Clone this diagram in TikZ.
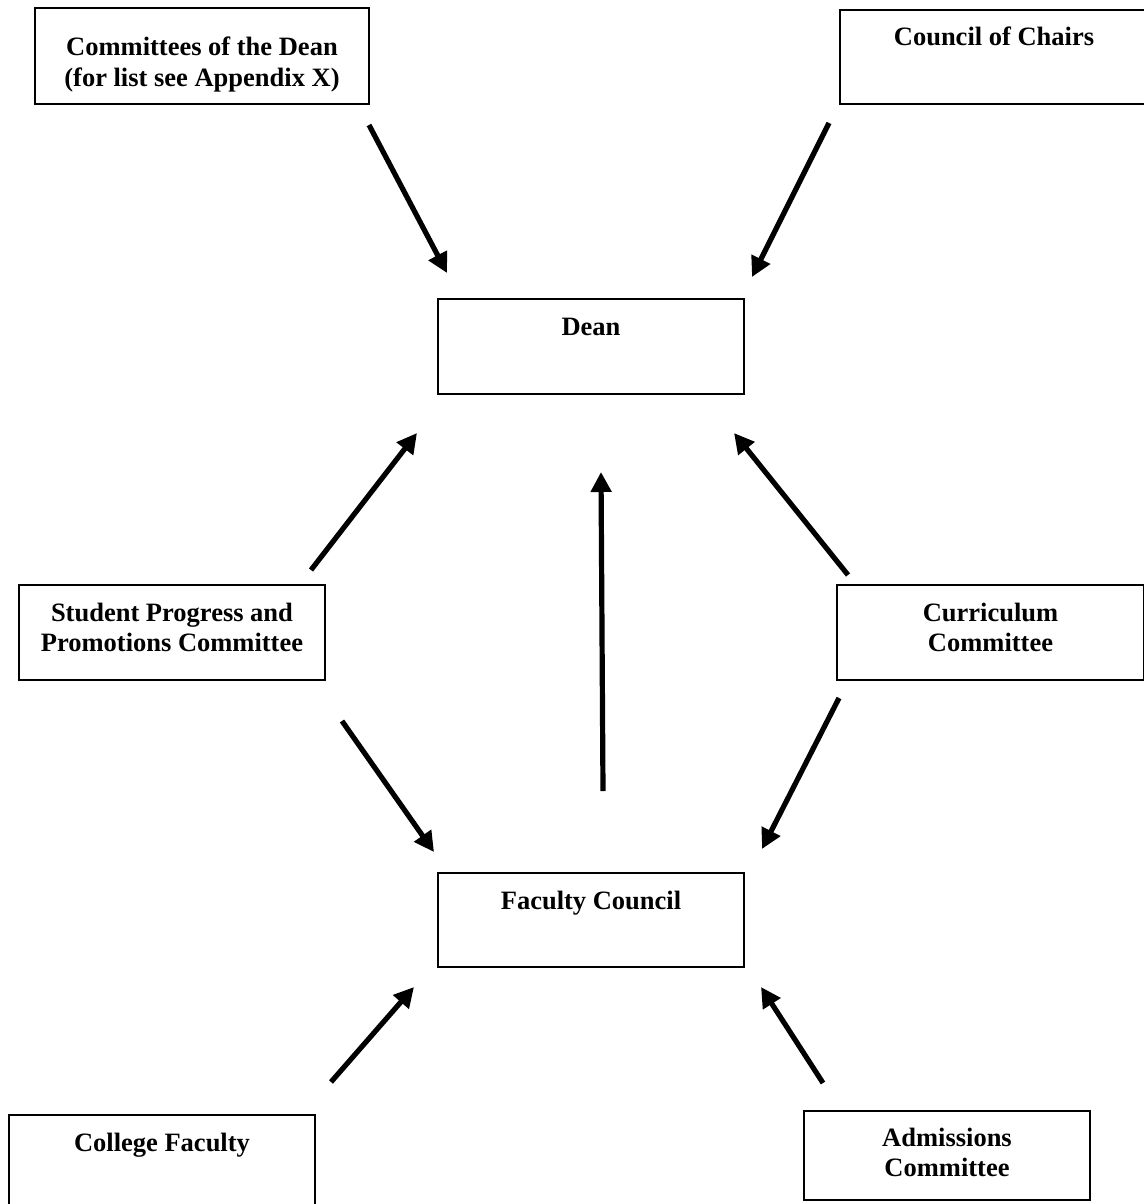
\documentclass[tikz,border=0pt]{standalone}
\usepackage{fontspec}
\setmainfont{Liberation Serif}
\usetikzlibrary{arrows.meta}
% text set at the top of a fixed box
\newcommand{\boxtext}[4][36pt]{\parbox[c][#3][t]{#2}{\centering\rule{0pt}{#1}#4}}
\begin{document}
\begin{tikzpicture}[x=1pt, y=-1pt,
    box/.style ={draw, line width=1.8pt, inner sep=0pt,
        font=\fontsize{26.5}{30.5}\selectfont\bfseries},
    arr/.style ={line width=5.2pt, -{Triangle[length=20pt, width=20pt]}}]
        \useasboundingbox (0,0) rectangle (1143,1204);
        \node[box] (cmt) at (202,56) {\boxtext[48pt]{334pt}{96pt}{Committees of the Dean\\(for list see Appendix X)}};
        \node[box] (chairs) at (994,57) {\boxtext{308pt}{94pt}{Council of Chairs}};
        \node[box] (dean) at (591,346.5) {\boxtext{306pt}{95pt}{Dean}};
        \node[box] (spp) at (172,632.5) {\boxtext{306pt}{95pt}{Student Progress and\\Promotions Committee}};
        \node[box] (curr) at (990.5,632.5) {\boxtext{307pt}{95pt}{Curriculum\\Committee}};
        \node[box] (fc) at (591,920) {\boxtext{306pt}{94pt}{Faculty Council}};
        \node[box] (college) at (162,1162.5) {\boxtext{306pt}{95pt}{College Faculty}};
        \node[box] (adm) at (947,1155.5) {\boxtext[35pt]{286pt}{89pt}{Admissions\\Committee}};
        % free arrow ends
        \coordinate (cmt-out) at (369,125);
        \coordinate (dean-in1) at (447,273);
        \coordinate (chairs-out) at (829,123);
        \coordinate (dean-in2) at (752,277);
        \coordinate (spp-out1) at (311,570);
        \coordinate (dean-in3) at (417,433);
        \coordinate (curr-out1) at (848,575);
        \coordinate (dean-in4) at (734,433);
        \coordinate (fc-out) at (603,791);
        \coordinate (dean-in5) at (601,472);
        \coordinate (spp-out2) at (342,721);
        \coordinate (fc-in1) at (434,852);
        \coordinate (curr-out2) at (839,698);
        \coordinate (fc-in2) at (762,849);
        \coordinate (college-out) at (331,1082);
        \coordinate (fc-in3) at (414,987);
        \coordinate (adm-out) at (823,1083);
        \coordinate (fc-in4) at (761,987);
        \draw[arr] (cmt-out) -- (dean-in1);
        \draw[arr] (chairs-out) -- (dean-in2);
        \draw[arr] (spp-out1) -- (dean-in3);
        \draw[arr] (curr-out1) -- (dean-in4);
        \draw[arr] (fc-out) -- (dean-in5);
        \draw[arr] (spp-out2) -- (fc-in1);
        \draw[arr] (curr-out2) -- (fc-in2);
        \draw[arr] (college-out) -- (fc-in3);
        \draw[arr] (adm-out) -- (fc-in4);
    \end{tikzpicture}
\end{document}
